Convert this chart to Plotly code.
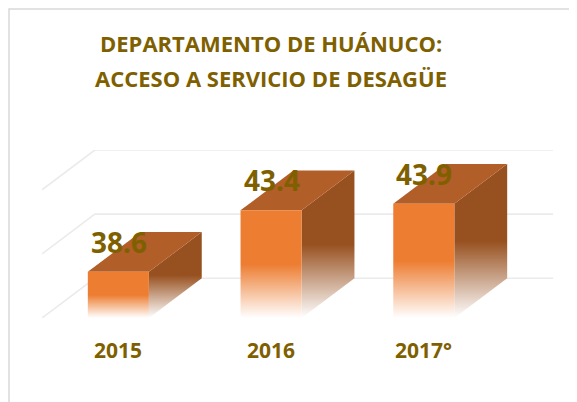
import plotly.graph_objects as go

# ---- data ----
categories = ["2015", "2016", "2017°"]
values = [38.6, 43.4, 43.9]
value_labels = ["38.6", "43.4", "43.9"]
grid_values = [35, 40, 45]
title_lines = ["DEPARTAMENTO DE HUÁNUCO:", "ACCESO A SERVICIO DE DESAGÜE"]

# ---- style ----
Y_MIN = 35
DEPTH_X = 0.346      # depth offset in category units
DEPTH_Y = 3.1        # depth offset in value units
HALF_W = 0.2
FRONT = "#ED7D31"
TOP = "#B15E28"
SIDE = "#97501F"
TEXT = "#7F6000"
GRID = "#EBEBEB"
FONT = "Open Sans"

OFF = 8  # page body margin
PL, PR, PT, PB = 42 - OFF, 553 - OFF, 150 - OFF, 318 - OFF
W, H = 577, 402

fig = go.Figure()

# back-wall + side-wall gridlines
for g in grid_values:
    fig.add_trace(go.Scatter(
        x=[-0.5, -0.5 + DEPTH_X, 2.5 + DEPTH_X],
        y=[g, g + DEPTH_Y, g + DEPTH_Y],
        mode="lines", line=dict(color=GRID, width=1.6),
        hoverinfo="skip", showlegend=False))

def face(xs, ys, color, y0, y1, fade=True):
    if fade:
        cs = [[0, "rgba(255,255,255,1)"], [0.5, color], [1, color]]
        fig.add_trace(go.Scatter(
            x=xs, y=ys, mode="lines", fill="toself", line=dict(width=0, color=color),
            fillgradient=dict(type="vertical", colorscale=cs, start=y0, stop=y1),
            hoverinfo="skip", showlegend=False))
    else:
        fig.add_trace(go.Scatter(
            x=xs, y=ys, mode="lines", fill="toself", line=dict(width=0, color=color),
            fillcolor=color, hoverinfo="skip", showlegend=False))

for i, v in enumerate(values):
    xl, xr = i - HALF_W, i + HALF_W
    face([xr, xr, xr + DEPTH_X, xr + DEPTH_X, xr],
         [Y_MIN, v, v + DEPTH_Y, Y_MIN + DEPTH_Y, Y_MIN], SIDE, Y_MIN, v + DEPTH_Y)
    face([xl, xr, xr + DEPTH_X, xl + DEPTH_X, xl],
         [v, v, v + DEPTH_Y, v + DEPTH_Y, v], TOP, 0, 0, fade=False)
    face([xl, xr, xr, xl, xl],
         [Y_MIN, Y_MIN, v, v, Y_MIN], FRONT, Y_MIN, v)
    fig.add_annotation(x=xl, y=v, xref="x", yref="y", text=f"<b>{value_labels[i]}</b>",
                       showarrow=False, xanchor="left", yanchor="middle",
                       xshift=1, yshift=30,
                       font=dict(family=FONT, size=28, color=TEXT))
    fig.add_annotation(x=i, y=0, xref="x", yref="paper", text=f"<b>{categories[i]}</b>",
                       showarrow=False, xanchor="center", yanchor="middle",
                       yshift=-32, font=dict(family=FONT, size=21, color=TEXT))

# title lines (page pixel positions converted to paper coords)
for k, line in enumerate(title_lines):
    px, py = 271 - OFF, 43 + 35 * k - OFF
    fig.add_annotation(x=(px - PL) / (PR - PL), y=(PB - py) / (PB - PT),
                       xref="paper", yref="paper", xanchor="center", yanchor="middle",
                       text=f"<b>{line}</b>", showarrow=False,
                       font=dict(family=FONT, size=22, color=TEXT))

fig.update_layout(
    width=W, height=H, autosize=False,
    margin=dict(l=PL, r=W - PR, t=PT, b=H - PB),
    paper_bgcolor="white", plot_bgcolor="white",
    xaxis=dict(range=[-0.5, 2.5 + DEPTH_X], visible=False, fixedrange=True),
    yaxis=dict(range=[Y_MIN, 45 + DEPTH_Y], visible=False, fixedrange=True),
    showlegend=False,
)

# outer frame
fig.add_shape(type="rect", xref="paper", yref="paper",
              x0=(1 - PL) / (PR - PL), x1=(600 - PL) / (PR - PL),
              y0=(PB - 420) / (PB - PT), y1=(PB - 1) / (PB - PT),
              line=dict(color="#D9D9D9", width=1.5), layer="below")

fig.write_html("out.html")
